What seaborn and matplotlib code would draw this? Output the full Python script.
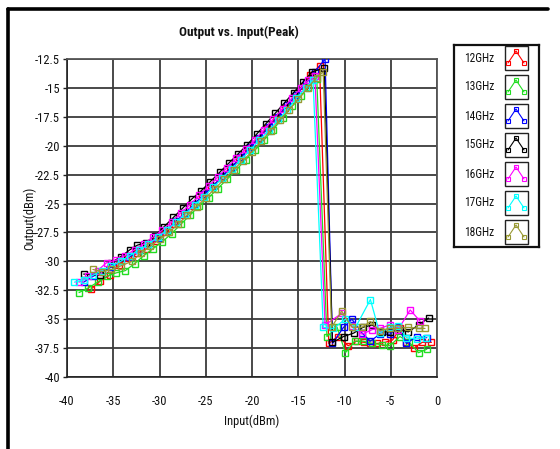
import matplotlib
matplotlib.use("Agg")
import matplotlib.pyplot as plt
from matplotlib.lines import Line2D
from matplotlib.patches import Rectangle
import seaborn as sns

# ---------------- data ----------------
labels = ["12GHz", "13GHz", "14GHz", "15GHz", "16GHz", "17GHz", "18GHz"]
colors = ["#FF0000", "#22DD22", "#0000FF", "#000000", "#FF00FF", "#00FFFF", "#999933"]

x12 = [-37.4, -36.4, -35.4, -34.4, -33.4, -32.4, -31.4, -30.4, -29.4, -28.4, -27.4, -26.4, -25.4,
       -24.4, -23.4, -22.4, -21.4, -20.4, -19.4, -18.4, -17.4, -16.4, -15.4, -14.4, -13.7, -12.7,
       -11.7, -10.7, -9.6, -8.7, -7.9, -7.2, -6.5, -5.6, -4.8, -4.0, -3.3, -2.5, -1.6, -0.6]
y12 = [-32.4, -31.7, -31.2, -30.3, -29.7, -29.3, -28.9, -28.2, -27.5, -26.8, -26.0, -25.2, -24.4,
       -23.6, -22.8, -22.0, -21.2, -20.3, -19.4, -18.5, -17.6, -16.7, -15.8, -14.8, -13.9, -13.1,
       -37.1, -36.5, -37.3, -36.9, -37.0, -37.1, -37.1, -37.0, -36.8, -35.8, -37.0, -37.5, -37.0, -37.0]

x13 = [-38.7, -37.7, -36.7, -35.7, -34.7, -33.7, -32.7, -31.7, -30.7, -29.7, -28.7, -27.7, -26.7,
       -25.7, -24.7, -23.7, -22.7, -21.7, -20.7, -19.7, -18.7, -17.7, -16.7, -15.7, -14.7, -13.9, -13.0,
       -11.9, -10.8, -9.9, -8.9, -8.0, -7.0, -6.0, -5.1, -4.0, -3.0, -2.0, -1.1]
y13 = [-32.7, -32.3, -31.8, -31.3, -31.0, -30.8, -30.2, -29.5, -28.9, -28.3, -27.6, -26.8, -26.0,
       -25.2, -24.5, -23.7, -22.9, -22.1, -21.2, -20.4, -19.5, -18.6, -17.6, -16.6, -15.7, -14.9, -14.2,
       -36.5, -35.7, -37.9, -36.9, -36.9, -37.1, -37.2, -37.3, -36.5, -37.0, -37.9, -37.6]

x14 = [-38.2, -37.2, -36.2, -35.2, -34.2, -33.2, -32.2, -31.2, -30.2, -29.2, -28.2, -27.2, -26.2,
       -25.2, -24.2, -23.2, -22.2, -21.2, -20.2, -19.2, -18.2, -17.2, -16.2, -15.2, -14.2, -13.2, -12.1,
       -11.3, -10.1, -9.2, -8.1, -7.2, -6.2, -5.1, -4.2, -3.3, -2.2, -1.1]
y14 = [-31.8, -31.3, -30.9, -30.5, -30.0, -29.6, -29.0, -28.5, -28.0, -27.3, -26.5, -25.8, -25.0,
       -24.2, -23.5, -22.6, -21.8, -21.0, -20.1, -19.3, -18.4, -17.5, -16.5, -15.6, -14.6, -13.6, -12.5,
       -37.1, -35.7, -35.0, -36.2, -36.9, -36.3, -36.3, -35.7, -37.1, -36.5, -36.6]

x15 = [-38.2, -36.4, -35.2, -34.2, -33.2, -32.4, -31.5, -30.5, -29.5, -28.5, -27.5, -26.5, -25.5,
       -24.5, -23.5, -22.5, -21.5, -20.5, -19.5, -18.5, -17.5, -16.5, -15.5, -14.5, -13.5, -12.2,
       -11.3, -10.1, -9.0, -8.0, -7.0, -6.0, -5.1, -4.0, -3.1, -2.0, -0.9]
y15 = [-31.1, -31.2, -30.1, -29.6, -29.0, -28.6, -28.4, -27.8, -27.0, -26.2, -25.4, -24.6, -23.9,
       -23.1, -22.3, -21.5, -20.7, -19.9, -19.0, -18.1, -17.2, -16.3, -15.4, -14.5, -13.6, -13.3,
       -37.0, -36.5, -36.2, -35.7, -35.5, -36.1, -36.1, -35.9, -36.1, -35.5, -34.9]

x16 = [-38.7, -37.7, -36.7, -35.7, -34.7, -33.7, -32.7, -31.7, -30.7, -29.7, -28.7, -27.7, -26.7,
       -25.7, -24.7, -23.7, -22.7, -21.7, -20.7, -19.7, -18.7, -17.7, -16.7, -15.7, -14.7, -13.9, -13.2,
       -12.1, -10.3, -9.2, -8.1, -7.0, -6.2, -5.1, -4.2, -2.9, -1.8]
y16 = [-31.8, -31.3, -30.8, -30.1, -29.9, -29.5, -29.0, -28.5, -27.9, -27.3, -26.6, -25.8, -25.1,
       -24.3, -23.5, -22.7, -21.9, -21.1, -20.3, -19.5, -18.6, -17.7, -16.8, -15.9, -15.0, -14.3, -14.0,
       -35.5, -34.5, -35.6, -36.3, -35.9, -35.8, -35.5, -35.9, -34.2, -35.2]

x17 = [-39.2, -38.2, -37.2, -36.2, -35.2, -34.2, -33.2, -32.2, -31.2, -30.2, -29.2, -28.2, -27.2,
       -26.2, -25.2, -24.2, -23.2, -22.2, -21.2, -20.2, -19.2, -18.2, -17.2, -16.2, -15.2, -14.2, -13.4,
       -12.3, -11.2, -9.9, -8.8, -7.2, -6.2, -5.1, -4.2, -3.3, -2.2, -1.2]
y17 = [-31.8, -31.6, -31.2, -30.8, -30.4, -30.0, -29.5, -29.0, -28.5, -27.9, -27.3, -26.6, -25.9,
       -25.1, -24.4, -23.6, -22.8, -22.0, -21.2, -20.4, -19.5, -18.7, -17.8, -16.9, -15.9, -15.0, -14.3,
       -35.7, -35.8, -35.0, -35.7, -33.3, -36.2, -35.7, -35.6, -36.6, -36.7, -36.6]

x18 = [-37.2, -36.2, -35.2, -34.2, -33.0, -32.0, -31.0, -30.0, -29.0, -28.0, -27.0, -26.0, -25.0,
       -24.0, -23.0, -22.0, -21.0, -20.0, -19.0, -18.0, -17.0, -16.0, -15.0, -14.0, -13.0, -12.3,
       -11.4, -10.3, -9.2, -8.1, -7.2, -6.2, -5.1, -4.2, -3.1, -2.0, -1.3]
y18 = [-30.7, -30.9, -30.7, -30.4, -30.0, -29.3, -28.7, -28.1, -27.5, -26.8, -26.0, -25.3, -24.5,
       -23.7, -22.9, -22.1, -21.3, -20.5, -19.6, -18.7, -17.8, -16.9, -16.0, -15.0, -14.1, -13.6,
       -35.7, -34.3, -35.7, -35.7, -35.2, -36.0, -35.8, -35.8, -35.7, -35.8, -35.8]

xs = [x12, x13, x14, x15, x16, x17, x18]
ys = [y12, y13, y14, y15, y16, y17, y18]

x_ticks = [-40, -35, -30, -25, -20, -15, -10, -5, 0]
y_ticks = [-40, -37.5, -35, -32.5, -30, -27.5, -25, -22.5, -20, -17.5, -15, -12.5]
x_tick_labels = ["-40", "-35", "-30", "-25", "-20", "-15", "-10", "-5", "0"]
y_tick_labels = ["-40", "-37.5", "-35", "-32.5", "-30", "-27.5", "-25", "-22.5", "-20", "-17.5", "-15", "-12.5"]

# ---------------- style ----------------
sns.set_theme(style="white")
plt.rcParams["font.family"] = ["Roboto Condensed", "DejaVu Sans"]

W, H = 560, 449
fig = plt.figure(figsize=(W / 100, H / 100), dpi=100)
fig.patch.set_facecolor("white")

ax = fig.add_axes([67 / W, 1 - 377 / H, (437 - 67) / W, (377 - 59) / H])
ax.set_facecolor("white")

for xv, yv, c in zip(xs, ys, colors):
    sns.lineplot(x=xv, y=yv, ax=ax, color=c, sort=False, estimator=None,
                 marker="s", markersize=4.3, markerfacecolor="none",
                 markeredgecolor=c, markeredgewidth=1.0, linewidth=0.9, zorder=3)

ax.set_xlim(-40, 0)
ax.set_ylim(-40, -12.5)
ax.set_xticks(x_ticks)
ax.set_xticklabels(x_tick_labels)
ax.set_yticks(y_ticks)
ax.set_yticklabels(y_tick_labels)
ax.grid(True, color="#3a3a3a", linewidth=1.3, zorder=1)
ax.set_axisbelow(True)
for s in ["left", "bottom"]:
    ax.spines[s].set_color("#222222")
    ax.spines[s].set_linewidth(1.2)
for s in ["top", "right"]:
    ax.spines[s].set_color("#555555")
    ax.spines[s].set_linewidth(1.3)
ax.tick_params(axis="y", left=True, length=3, width=1, color="#222222", labelsize=9, pad=2, labelcolor="#111111")
ax.tick_params(axis="x", bottom=False, labelsize=9, pad=7, labelcolor="#111111")

ax.set_xlabel("Input(dBm)", fontsize=9, labelpad=5, color="#111111")
ax.set_ylabel("Output(dBm)", fontsize=9, color="#111111")
ax.yaxis.set_label_coords((36 - 67) / 370, 0.5)

fig.text(239 / W, 1 - 32 / H, "Output vs. Input(Peak)", ha="center", va="center",
         fontsize=9.5, fontweight="bold", color="#111111")

# outer frame (top + left)
fig.add_artist(Line2D([8 / W, 548 / W], [1 - 9 / H, 1 - 9 / H], color="black", linewidth=2.6,
                      transform=fig.transFigure))
fig.add_artist(Line2D([8 / W, 8 / W], [1 - 9 / H, 0], color="black", linewidth=2.6,
                      transform=fig.transFigure))

# ---------------- legend ----------------
lax = fig.add_axes([454 / W, 1 - 247 / H, (539 - 454) / W, (247 - 45) / H])
lax.set_xlim(454, 539)
lax.set_ylim(247, 45)
lax.set_xticks([])
lax.set_yticks([])
for s in lax.spines.values():
    s.set_color("#111111")
    s.set_linewidth(1.6)

row_y = [58, 87, 116, 145, 174, 203, 232]
for lab, c, ry in zip(labels, colors, row_y):
    lax.text(479, ry, lab, ha="center", va="center", fontsize=8.3, color="#111111")
    lax.add_patch(Rectangle((504.5, ry - 12), 23, 24, fill=False, edgecolor="#222222", linewidth=1.0))
    lax.plot([508, 516, 524], [ry + 5, ry - 7, ry + 5], color=c, linewidth=0.8,
             marker="s", markersize=3.2, markerfacecolor="none", markeredgecolor=c,
             markeredgewidth=0.8)

fig.savefig("out.png", dpi=100, facecolor="white")
